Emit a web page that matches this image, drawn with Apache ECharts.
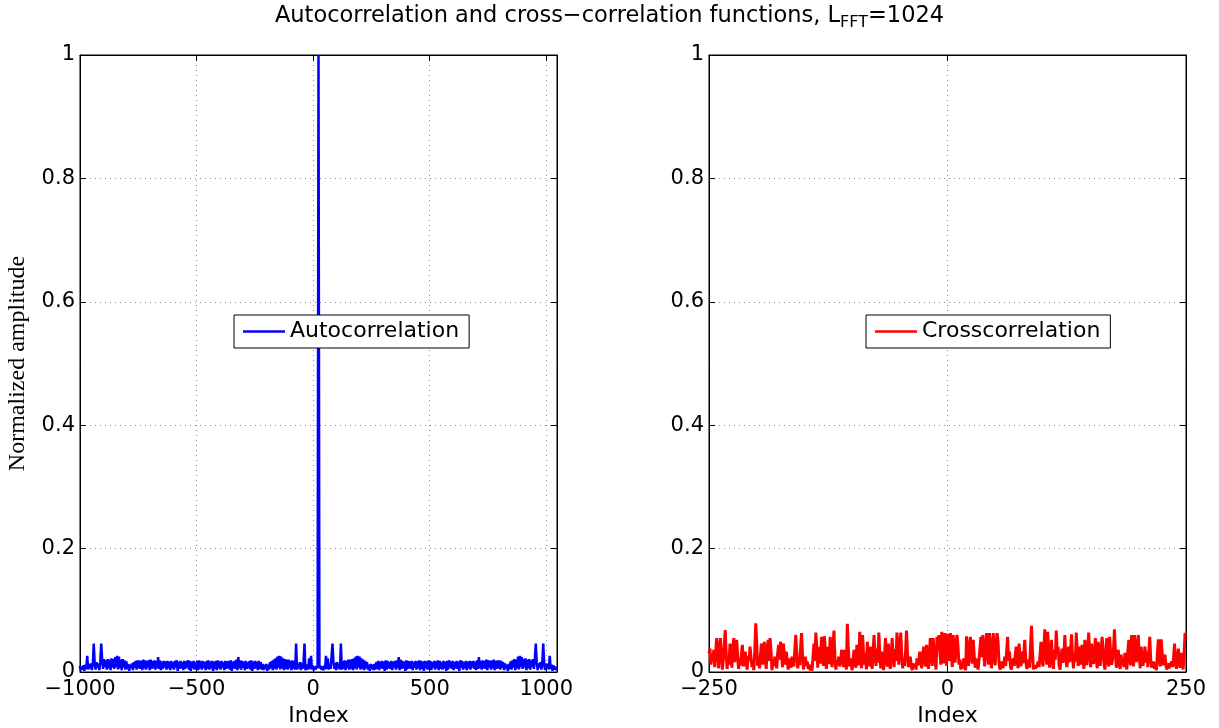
<!DOCTYPE html>
<html>
<head>
<meta charset="utf-8">
<script src="https://cdn.jsdelivr.net/npm/echarts@6/dist/echarts.min.js"></script>
<style>
  html, body { margin: 0; padding: 0; background: #fff; }
  #chart { width: 1219px; height: 728px; }
</style>
</head>
<body>
<div id="chart"></div>
<script>
// Autocorrelation magnitude, sampled every 4 lags starting at lag -1001 (peak at lag 23)
const autoLagStart = -1001;
const autoLagStep = 4;
const autoValues = [
  0.010,0.003,0.009,0.004,0.011,0.002,0.012,0.005,0.026,0.004,0.013,0.006,0.014,0.003,0.012,0.046,
  0.015,0.004,0.016,0.007,0.014,0.003,0.016,0.046,0.020,0.005,0.021,0.008,0.019,0.004,0.021,0.006,
  0.020,0.003,0.022,0.007,0.021,0.005,0.024,0.008,0.026,0.004,0.025,0.006,0.020,0.003,0.021,0.007,
  0.019,0.004,0.017,0.005,0.013,0.002,0.012,0.006,0.014,0.003,0.016,0.007,0.018,0.004,0.019,0.006,
  0.019,0.005,0.018,0.003,0.020,0.006,0.019,0.004,0.018,0.007,0.019,0.003,0.020,0.005,0.018,0.006,
  0.019,0.004,0.018,0.006,0.024,0.005,0.019,0.003,0.017,0.005,0.018,0.007,0.017,0.004,0.018,0.006,
  0.017,0.003,0.018,0.006,0.016,0.004,0.018,0.007,0.019,0.002,0.017,0.005,0.018,0.006,0.016,0.003,
  0.018,0.005,0.017,0.007,0.019,0.004,0.018,0.002,0.017,0.006,0.018,0.004,0.016,0.005,0.018,0.003,
  0.019,0.006,0.017,0.004,0.018,0.007,0.016,0.003,0.018,0.005,0.019,0.004,0.017,0.006,0.018,0.002,
  0.017,0.005,0.018,0.003,0.019,0.006,0.017,0.004,0.018,0.007,0.016,0.003,0.018,0.005,0.017,0.006,
  0.018,0.004,0.019,0.002,0.017,0.006,0.018,0.005,0.020,0.003,0.024,0.006,0.019,0.004,0.018,0.007,
  0.017,0.003,0.018,0.005,0.016,0.006,0.018,0.004,0.019,0.002,0.017,0.005,0.018,0.006,0.017,0.003,
  0.018,0.005,0.016,0.004,0.013,0.003,0.012,0.005,0.013,0.002,0.012,0.004,0.016,0.006,0.018,0.003,
  0.020,0.005,0.022,0.004,0.025,0.007,0.026,0.004,0.025,0.006,0.022,0.003,0.021,0.005,0.020,0.004,
  0.020,0.006,0.018,0.003,0.019,0.005,0.017,0.004,0.046,0.004,0.013,0.006,0.016,0.003,0.015,0.005,
  0.016,0.046,0.003,0.005,0.012,0.004,0.022,0.005,0.026,0.004,0.010,0.003,0.009,0.004,0.010,0.006,
  1.000,
  0.006,0.010,0.004,0.009,0.003,0.010,0.004,0.026,0.005,0.022,0.004,0.012,0.005,0.003,0.046,0.016,
  0.005,0.015,0.003,0.016,0.006,0.013,0.004,0.046,0.004,0.017,0.005,0.019,0.003,0.018,0.006,0.020,
  0.004,0.020,0.005,0.021,0.003,0.022,0.006,0.025,0.004,0.026,0.007,0.025,0.004,0.022,0.005,0.020,
  0.003,0.018,0.006,0.016,0.004,0.012,0.002,0.013,0.005,0.012,0.003,0.013,0.004,0.016,0.005,0.018,
  0.003,0.017,0.006,0.018,0.005,0.017,0.002,0.019,0.004,0.018,0.006,0.016,0.005,0.018,0.003,0.017,
  0.007,0.018,0.004,0.019,0.006,0.024,0.003,0.020,0.005,0.018,0.006,0.017,0.002,0.019,0.004,0.018,
  0.006,0.017,0.005,0.018,0.003,0.016,0.007,0.018,0.004,0.017,0.006,0.019,0.003,0.018,0.005,0.017,
  0.002,0.018,0.006,0.017,0.004,0.019,0.005,0.018,0.003,0.016,0.007,0.018,0.004,0.017,0.006,0.019,
  0.003,0.018,0.005,0.016,0.004,0.018,0.006,0.017,0.002,0.018,0.004,0.019,0.007,0.017,0.005,0.018,
  0.003,0.016,0.006,0.018,0.005,0.017,0.002,0.019,0.007,0.018,0.004,0.016,0.006,0.018,0.003,0.017,
  0.006,0.018,0.004,0.017,0.007,0.018,0.005,0.017,0.003,0.019,0.005,0.024,0.006,0.018,0.004,0.019,
  0.006,0.018,0.005,0.020,0.003,0.019,0.007,0.018,0.004,0.019,0.006,0.020,0.003,0.018,0.005,0.019,
  0.006,0.019,0.004,0.018,0.007,0.016,0.003,0.014,0.006,0.012,0.002,0.013,0.005,0.017,0.004,0.019,
  0.007,0.021,0.003,0.020,0.006,0.025,0.004,0.026,0.008,0.024,0.005,0.021,0.007,0.022,0.003,0.020,
  0.006,0.021,0.004,0.019,0.008,0.021,0.005,0.020,0.046,0.016,0.003,0.014,0.007,0.016,0.004,0.015,
  0.046,0.012,0.003,0.014,0.006,0.013,0.004,0.026,0.005,0.012,0.002,0.011,0.004,0.009,0.003
];

// Cross-correlation magnitude, one value per lag from -250 to 250
const crossLagStart = -250;
const crossValues = [
  0.030,0.038,0.012,0.025,0.018,0.036,0.008,0.030,0.055,0.040,
  0.006,0.032,0.055,0.028,0.004,0.020,0.042,0.068,0.030,0.005,
  0.025,0.012,0.046,0.020,0.007,0.038,0.055,0.016,0.033,0.052,
  0.027,0.005,0.020,0.011,0.030,0.044,0.009,0.022,0.033,0.015,
  0.004,0.026,0.018,0.041,0.024,0.008,0.014,0.003,0.035,0.079,
  0.048,0.010,0.020,0.006,0.029,0.046,0.012,0.030,0.049,0.021,
  0.005,0.037,0.052,0.018,0.055,0.034,0.003,0.017,0.010,0.025,
  0.014,0.006,0.031,0.044,0.020,0.049,0.036,0.008,0.046,0.027,
  0.012,0.033,0.019,0.004,0.022,0.013,0.007,0.025,0.016,0.009,
  0.038,0.060,0.031,0.006,0.020,0.011,0.040,0.063,0.029,0.004,
  0.018,0.025,0.010,0.017,0.005,0.012,0.003,0.009,0.002,0.024,
  0.046,0.018,0.064,0.040,0.007,0.041,0.022,0.014,0.057,0.030,
  0.010,0.058,0.035,0.005,0.041,0.024,0.013,0.057,0.026,0.008,
  0.045,0.067,0.021,0.004,0.020,0.011,0.025,0.009,0.018,0.036,
  0.025,0.008,0.036,0.018,0.004,0.078,0.040,0.009,0.022,0.013,
  0.003,0.018,0.036,0.015,0.007,0.044,0.024,0.011,0.065,0.034,
  0.006,0.060,0.028,0.012,0.031,0.004,0.049,0.022,0.009,0.041,
  0.019,0.005,0.033,0.060,0.027,0.010,0.038,0.015,0.064,0.030,
  0.006,0.033,0.016,0.003,0.025,0.055,0.021,0.009,0.046,0.017,
  0.005,0.030,0.055,0.024,0.008,0.037,0.018,0.064,0.031,0.012,
  0.045,0.064,0.029,0.006,0.020,0.010,0.031,0.067,0.033,0.008,
  0.017,0.025,0.010,0.003,0.014,0.007,0.012,0.004,0.022,0.011,
  0.019,0.033,0.015,0.006,0.027,0.041,0.018,0.009,0.044,0.026,
  0.005,0.031,0.055,0.024,0.010,0.055,0.030,0.020,0.004,0.057,
  0.035,0.060,0.033,0.012,0.065,0.031,0.014,0.063,0.036,0.010,
  0.062,0.041,0.018,0.063,0.032,0.008,0.060,0.037,0.015,0.046,
  0.060,0.041,0.012,0.020,0.004,0.011,0.006,0.022,0.013,0.003,
  0.058,0.029,0.010,0.042,0.057,0.021,0.014,0.052,0.026,0.007,
  0.015,0.022,0.004,0.019,0.038,0.057,0.024,0.060,0.031,0.009,
  0.044,0.063,0.028,0.012,0.063,0.040,0.006,0.035,0.063,0.022,
  0.011,0.047,0.063,0.049,0.015,0.004,0.009,0.017,0.006,0.013,
  0.025,0.010,0.033,0.057,0.018,0.033,0.008,0.004,0.015,0.022,
  0.010,0.027,0.041,0.017,0.006,0.046,0.024,0.009,0.033,0.014,
  0.030,0.052,0.021,0.005,0.012,0.020,0.007,0.039,0.075,0.036,
  0.004,0.011,0.006,0.003,0.010,0.017,0.008,0.028,0.049,0.022,
  0.009,0.038,0.069,0.030,0.012,0.065,0.033,0.007,0.026,0.052,
  0.019,0.005,0.036,0.020,0.067,0.031,0.041,0.010,0.004,0.021,
  0.038,0.015,0.028,0.060,0.024,0.008,0.019,0.041,0.016,0.034,
  0.061,0.027,0.006,0.030,0.017,0.064,0.033,0.010,0.024,0.041,
  0.012,0.044,0.020,0.005,0.052,0.026,0.011,0.038,0.064,0.029,
  0.008,0.046,0.022,0.013,0.030,0.055,0.021,0.006,0.049,0.025,
  0.010,0.031,0.057,0.041,0.014,0.004,0.026,0.055,0.023,0.009,
  0.057,0.030,0.012,0.020,0.036,0.069,0.032,0.007,0.018,0.036,
  0.014,0.005,0.028,0.012,0.020,0.008,0.031,0.015,0.004,0.033,
  0.052,0.020,0.011,0.060,0.034,0.009,0.060,0.028,0.016,0.044,
  0.060,0.025,0.006,0.041,0.019,0.010,0.027,0.041,0.015,0.033,
  0.008,0.030,0.057,0.021,0.007,0.013,0.017,0.005,0.012,0.003,
  0.029,0.053,0.022,0.009,0.053,0.030,0.011,0.018,0.028,0.010,
  0.004,0.014,0.006,0.009,0.003,0.017,0.008,0.024,0.046,0.016,
  0.005,0.020,0.038,0.012,0.007,0.031,0.013,0.004,0.030,0.063,
  0.060
];

// Axis ranges and tick spacing
const autoRange = [-1000, 1046];
const autoTickStep = 500;
const crossRange = [-250, 250];
const crossTickStep = 250;
const ampRange = [0, 1];
const ampTickStep = 0.2;

const seriesNames = ['Autocorrelation', 'Crosscorrelation'];
const titleMain = 'Autocorrelation and cross\u2212correlation functions, L';
const titleSub = 'FFT';
const titleTail = '=1024';
const xName = 'Index';
const yName = 'Normalized amplitude';

const autoData = autoValues.map((v, i) => [autoLagStart + autoLagStep * i, v]);
const crossData = crossValues.map((v, i) => [crossLagStart + i, v]);

const SANS = '"DejaVu Sans", Verdana, sans-serif';
const SERIF = '"Liberation Serif", "Times New Roman", serif';
const tickFont = 21;

function tickLabel(step) {
  return function (v) {
    if (Math.abs(v / step - Math.round(v / step)) > 1e-6) return '';
    return v < 0 ? '\u2212' + Math.abs(v) : String(v);
  };
}

// Fixed plot rectangles; outer bounds handling is switched off so the boxes keep their size
const grids = [
  { left: 80, top: 55, width: 477, height: 617 },
  { left: 709, top: 55, width: 477, height: 617 }
].map(g => Object.assign(g, {
  show: true, borderColor: '#000', borderWidth: 1, backgroundColor: '#fff',
  containLabel: false, outerBoundsMode: 'none'
}));

const gridLine = { show: true, lineStyle: { color: '#8c8c8c', type: [1, 4], width: 1 } };
const axisLine = { show: true, onZero: false, lineStyle: { color: '#000', width: 1 } };
const tickIn = { show: true, inside: true, length: 6, lineStyle: { color: '#000' } };

function bottomX(gridIndex, range, step) {
  return {
    type: 'value', gridIndex, position: 'bottom', min: range[0], max: range[1], interval: step,
    axisLine, axisTick: tickIn, splitLine: gridLine,
    axisLabel: { color: '#000', fontSize: tickFont, fontFamily: SANS, margin: 7, formatter: tickLabel(step) },
    name: xName, nameLocation: 'middle', nameGap: 25,
    nameTextStyle: { color: '#000', fontSize: 22, fontFamily: SANS }
  };
}
function topX(gridIndex, range, step) {
  return {
    type: 'value', gridIndex, position: 'top', min: range[0], max: range[1], interval: step,
    axisLine, axisTick: tickIn, splitLine: { show: false }, axisLabel: { show: false }
  };
}
function leftY(gridIndex, withName) {
  const ax = {
    type: 'value', gridIndex, position: 'left', min: ampRange[0], max: ampRange[1], interval: ampTickStep,
    axisLine, axisTick: tickIn, splitLine: gridLine,
    axisLabel: { color: '#000', fontSize: tickFont, fontFamily: SANS, margin: 5 }
  };
  if (withName) {
    Object.assign(ax, {
      name: yName, nameLocation: 'middle', nameGap: 50, nameRotate: 90,
      nameTextStyle: { color: '#000', fontSize: 24, fontFamily: SERIF }
    });
  }
  return ax;
}
function rightY(gridIndex) {
  return {
    type: 'value', gridIndex, position: 'right', min: ampRange[0], max: ampRange[1], interval: ampTickStep,
    axisLine, axisTick: tickIn, splitLine: { show: false }, axisLabel: { show: false }
  };
}

const legendBase = {
  orient: 'horizontal', icon: 'rect', itemWidth: 42, itemHeight: 2.5, itemGap: 4,
  backgroundColor: '#fff', borderColor: '#000', borderWidth: 1, borderRadius: 0,
  padding: [5, 10, 5, 9],
  textStyle: { color: '#000', fontSize: 22, fontFamily: SANS, lineHeight: 23 }
};

const chart = echarts.init(document.getElementById('chart'), null, { renderer: 'canvas' });
chart.setOption({
  animation: false,
  backgroundColor: '#fff',
  title: {
    text: '{m|' + titleMain + '}{s|' + titleSub + '}{m|' + titleTail + '}',
    left: 'center', top: 1, padding: 0,
    textStyle: {
      fontWeight: 'normal',
      rich: {
        m: { fontSize: 22.5, fontFamily: SANS, fontWeight: 'normal', color: '#000', lineHeight: 30, verticalAlign: 'middle' },
        s: { fontSize: 16, fontFamily: SANS, fontWeight: 'normal', color: '#000', lineHeight: 30, verticalAlign: 'bottom' }
      }
    }
  },
  grid: grids,
  xAxis: [
    bottomX(0, autoRange, autoTickStep), topX(0, autoRange, autoTickStep),
    bottomX(1, crossRange, crossTickStep), topX(1, crossRange, crossTickStep)
  ],
  yAxis: [leftY(0, true), rightY(0), leftY(1, false), rightY(1)],
  legend: [
    Object.assign({}, legendBase, { data: [seriesNames[0]], left: 234, top: 315 }),
    Object.assign({}, legendBase, { data: [seriesNames[1]], left: 866, top: 315 })
  ],
  series: [
    {
      name: seriesNames[0], type: 'line', xAxisIndex: 0, yAxisIndex: 0,
      data: autoData, showSymbol: false, symbol: 'none', sampling: null,
      lineStyle: { color: '#0000ff', width: 2.5 }, itemStyle: { color: '#0000ff' }, z: 3
    },
    {
      name: seriesNames[1], type: 'line', xAxisIndex: 2, yAxisIndex: 2,
      data: crossData, showSymbol: false, symbol: 'none', sampling: null,
      lineStyle: { color: '#ff0000', width: 3 }, itemStyle: { color: '#ff0000' }, z: 3
    }
  ]
});
</script>
</body>
</html>
